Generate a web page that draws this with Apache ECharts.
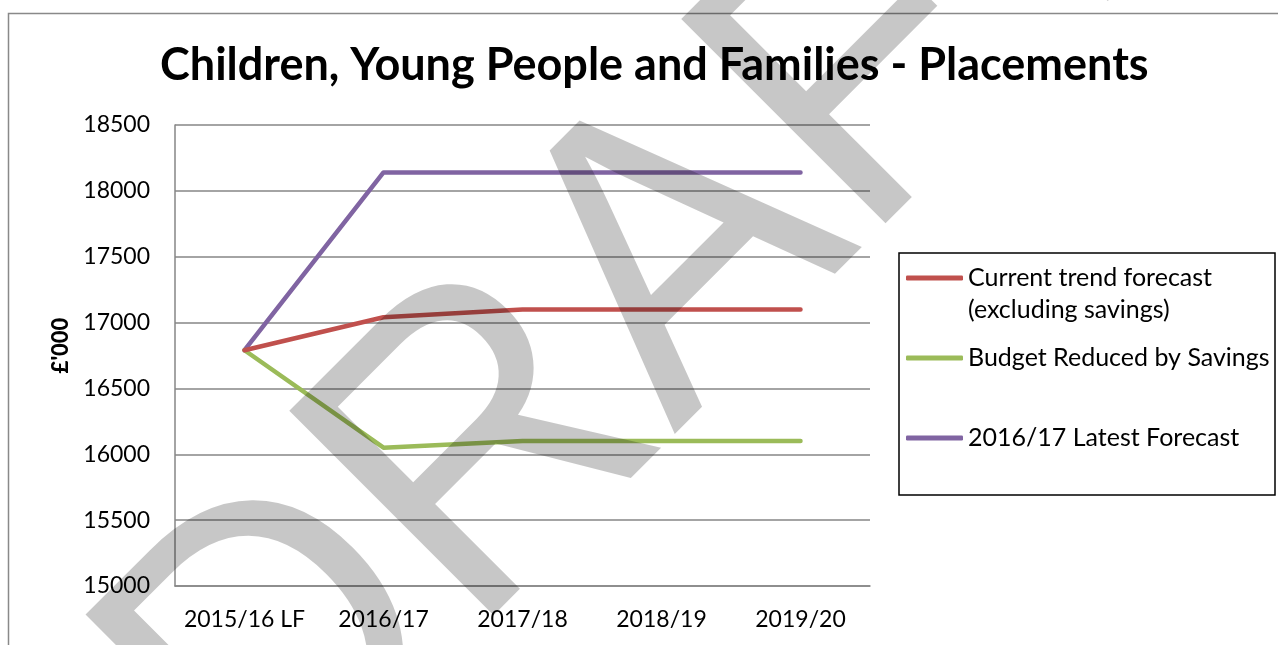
<!DOCTYPE html>
<html>
<head>
<meta charset="utf-8">
<script src="https://cdn.jsdelivr.net/npm/echarts@6/dist/echarts.min.js"></script>
<style>
html,body{margin:0;padding:0;background:#fff;}
#chart{width:1278px;height:645px;}
</style>
</head>
<body>
<div id="chart"></div>
<script>
const categories = ['2015/16 LF', '2016/17', '2017/18', '2018/19', '2019/20'];
const currentTrend = [16790, 17040, 17100, 17100, 17100];
const budgetReduced = [16790, 16050, 16100, 16100, 16100];
const latestForecast = [16790, 18140, 18140, 18140, 18140];
const seriesNames = ['Current trend forecast', 'Budget Reduced by Savings', '2016/17 Latest Forecast'];
const titleText = 'Children, Young People and Families - Placements';

const FONT = 'Lato';
const chart = echarts.init(document.getElementById('chart'));

function legendFor(name, top, label) {
  return {
    data: [name],
    left: 906,
    top: top,
    orient: 'vertical',
    padding: 0,
    icon: 'roundRect',
    itemWidth: 57,
    itemHeight: 5,
    selectedMode: false,
    formatter: function () { return label; },
    textStyle: { fontFamily: FONT, fontSize: 25, color: '#000', lineHeight: 32 }
  };
}

chart.setOption({
  animation: false,
  backgroundColor: '#fff',
  title: {
    text: titleText,
    left: 160,
    top: 43,
    padding: 0,
    textStyle: { fontFamily: FONT, fontWeight: 'bold', fontSize: 45, color: '#000' }
  },
  legend: [
    legendFor(seriesNames[0], 230, '\nCurrent trend forecast\n(excluding savings)'),
    legendFor(seriesNames[1], 342, seriesNames[1]),
    legendFor(seriesNames[2], 422, seriesNames[2])
  ],
  grid: { left: 175, right: 408, top: 125, bottom: 59, containLabel: false },
  xAxis: {
    type: 'category',
    data: categories,
    boundaryGap: true,
    axisLine: { lineStyle: { color: '#868686', width: 1.5 } },
    axisTick: { show: false },
    axisLabel: { fontFamily: FONT, fontSize: 23, color: '#000', margin: 22, interval: 0 }
  },
  yAxis: {
    type: 'value',
    min: 15000,
    max: 18500,
    interval: 500,
    name: "£'000",
    nameLocation: 'middle',
    nameRotate: 90,
    nameGap: 103,
    nameTextStyle: { fontFamily: FONT, fontWeight: 900, fontSize: 22, color: '#000', padding: [0, 0, 0, 20] },
    axisLine: { show: true, lineStyle: { color: '#868686', width: 1.5 } },
    axisTick: { show: false },
    splitLine: { lineStyle: { color: '#868686', width: 1.5 } },
    axisLabel: { fontFamily: FONT, fontSize: 23, color: '#000', margin: 25,
      formatter: function (v) { return String(v); } }
  },
  series: [
    { name: seriesNames[2], type: 'line', data: latestForecast, symbol: 'none', color: '#8064A2',
      lineStyle: { width: 4.5, cap: 'round', join: 'round' } },
    { name: seriesNames[1], type: 'line', data: budgetReduced, symbol: 'none', color: '#9BBB59',
      lineStyle: { width: 4.5, cap: 'round', join: 'round' } },
    { name: seriesNames[0], type: 'line', data: currentTrend, symbol: 'none', color: '#C0504D',
      lineStyle: { width: 4.5, cap: 'round', join: 'round' } }
  ],
  graphic: [
    { type: 'rect', shape: { x: 8.5, y: 13.5, width: 1400, height: 800 },
      style: { fill: 'none', stroke: '#898989', lineWidth: 1.5 }, z: 0, silent: true },
    { type: 'rect', shape: { x: 899, y: 253, width: 376, height: 242 },
      style: { fill: 'none', stroke: '#000', lineWidth: 1.5 }, z: 1, silent: true },
    { type: 'text', x: 655, y: 290, rotation: Math.PI / 4, scaleX: 0.95, z: 100, silent: true,
      style: { text: 'DRAFT', fontFamily: 'Liberation Sans', fontSize: 420, fill: 'rgba(0,0,0,0.22)',
        align: 'center', verticalAlign: 'middle' } }
  ]
});
</script>
</body>
</html>
